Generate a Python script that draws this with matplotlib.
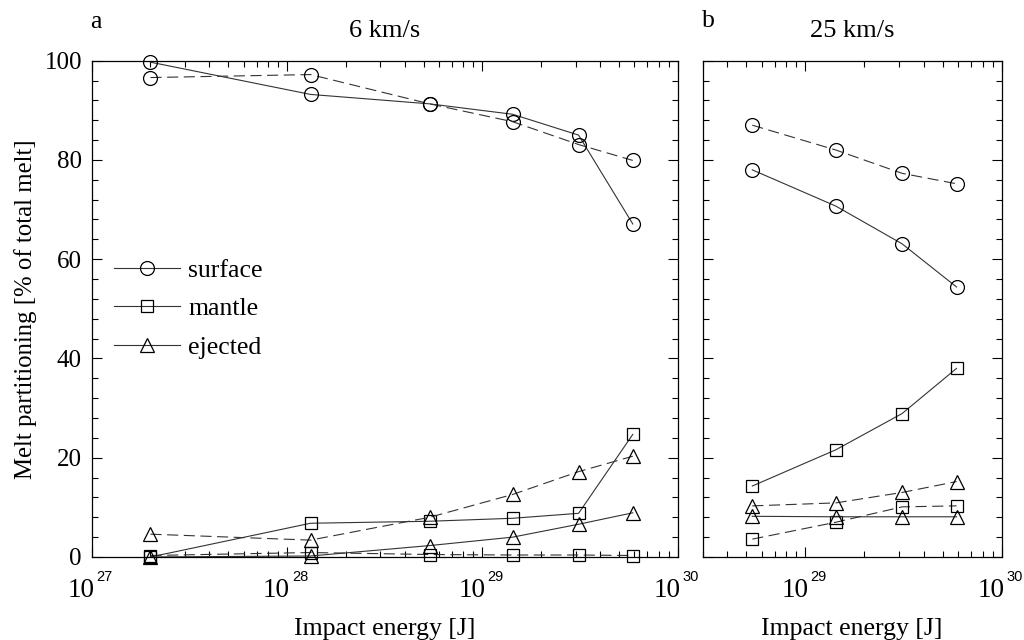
import numpy as np
import matplotlib
matplotlib.use("Agg")
import matplotlib.pyplot as plt
import matplotlib.transforms as mtransforms
from matplotlib.ticker import FixedLocator, LogLocator, MultipleLocator, NullFormatter
from matplotlib.lines import Line2D

plt.rcParams['font.family'] = ['Liberation Serif', 'DejaVu Serif']

# impact energies [J]
energy_a = [2.0e27, 1.32e28, 5.37e28, 1.43e29, 3.11e29, 5.89e29]
energy_b = [5.37e28, 1.43e29, 3.11e29, 5.89e29]

# panel a, 6 km/s (solid and dashed model runs)
surface_a = [99.7, 93.2, 91.3, 89.2, 85.0, 67.1]
surface_a_dash = [96.6, 97.2, 91.3, 87.7, 83.1, 79.9]
mantle_a = [0.0, 6.8, 7.2, 7.8, 8.8, 24.7]
mantle_a_dash = [0.3, 0.9, 0.5, 0.4, 0.4, 0.3]
ejected_a = [0.0, 0.2, 2.3, 4.0, 6.6, 8.9]
ejected_a_dash = [4.6, 3.4, 8.0, 12.6, 17.2, 20.3]

# panel b, 25 km/s
surface_b = [78.0, 70.7, 63.1, 54.4]
surface_b_dash = [87.0, 82.0, 77.3, 75.2]
mantle_b = [14.3, 21.6, 28.9, 38.0]
mantle_b_dash = [3.6, 7.0, 10.1, 10.3]
ejected_b = [8.2, 8.1, 8.1, 8.1]
ejected_b_dash = [10.3, 10.9, 13.0, 15.2]

legend_names = ['surface', 'mantle', 'ejected']
markers = ['o', 's', '^']
msizes = [10, 8.5, 10.5]

FS = 18.5
DASH = (0, (10, 5))
LW = 0.8
LC = '#333333'

fig = plt.figure(figsize=(10.24, 6.4), dpi=100)
ax_a = fig.add_axes([0.0895, 0.1297, 0.5723, 0.7755])
ax_b = fig.add_axes([0.6862, 0.1297, 0.2920, 0.7755])


def draw(ax, x, series):
    for (solid, dashed), m, ms in zip(series, markers, msizes):
        ax.plot(x, solid, color=LC, lw=LW, marker=m, ms=ms, mfc='none',
                mec='black', mew=0.9, clip_on=False)
        ax.plot(x, dashed, color=LC, lw=LW, ls=DASH, marker=m, ms=ms, mfc='none',
                mec='black', mew=0.9, clip_on=False)


def power_labels(ax, decades):
    # "10" with a small raised exponent, like the original plotting package
    trans = mtransforms.blended_transform_factory(ax.transData, ax.transAxes)
    for d in decades:
        base = mtransforms.offset_copy(trans, fig=fig, x=2.2, y=-24, units='points')
        expo = mtransforms.offset_copy(trans, fig=fig, x=3.6, y=-14.5, units='points')
        ax.text(10.0 ** d, 0, '10', transform=base, ha='right', va='center',
                fontsize=19.5, clip_on=False)
        ax.text(10.0 ** d, 0, str(d), transform=expo, ha='left', va='center',
                fontsize=10.5, family='Liberation Sans', clip_on=False)


draw(ax_a, energy_a, [(surface_a, surface_a_dash), (mantle_a, mantle_a_dash),
                      (ejected_a, ejected_a_dash)])
draw(ax_b, energy_b, [(surface_b, surface_b_dash), (mantle_b, mantle_b_dash),
                      (ejected_b, ejected_b_dash)])

for ax, xlim, decades in [(ax_a, (1e27, 1e30), [27, 28, 29, 30]),
                          (ax_b, (3e28, 1e30), [29, 30])]:
    ax.set_xscale('log')
    ax.set_xlim(*xlim)
    ax.set_ylim(0, 100)
    ax.xaxis.set_major_locator(FixedLocator([10.0 ** d for d in decades]))
    ax.xaxis.set_minor_locator(LogLocator(base=10, subs=np.arange(2, 10), numticks=20))
    ax.xaxis.set_minor_formatter(NullFormatter())
    ax.yaxis.set_major_locator(MultipleLocator(20))
    ax.yaxis.set_minor_locator(MultipleLocator(4))
    ax.tick_params(which='both', direction='in', top=True, right=True, width=0.8,
                   labelsize=18, labelbottom=False)
    ax.tick_params(which='major', length=7)
    ax.tick_params(which='minor', length=4)
    ax.tick_params(axis='y', pad=7)
    for sp in ax.spines.values():
        sp.set_linewidth(0.9)
    power_labels(ax, decades)
    ax.set_xlabel('Impact energy [J]', fontsize=FS, va='baseline')
    ax.xaxis.set_label_coords(0.5, -0.157)

ax_b.tick_params(axis='y', labelleft=False)
ax_a.set_ylabel('Melt partitioning [% of total melt]', fontsize=17.8, labelpad=5)

ax_a.set_title('6 km/s', fontsize=19, pad=17.3)
ax_b.set_title('25 km/s', fontsize=19, pad=17.3)
fig.text(0.088, 1 - 28 / 640, 'a', fontsize=18.5, ha='left', va='baseline')
fig.text(0.686, 1 - 27 / 640, 'b', fontsize=18.5, ha='left', va='baseline')

handles = [Line2D([], [], color=LC, lw=LW, marker=m, ms=ms, mfc='none', mec='black', mew=0.9)
           for m, ms in zip(markers, msizes)]
ax_a.legend(handles, legend_names, loc='upper left', bbox_to_anchor=(0.02, 0.622),
            frameon=False, fontsize=FS, handlelength=2.6, handletextpad=0.3,
            labelspacing=0.62, borderaxespad=0)

fig.savefig('out.png', dpi=100)
